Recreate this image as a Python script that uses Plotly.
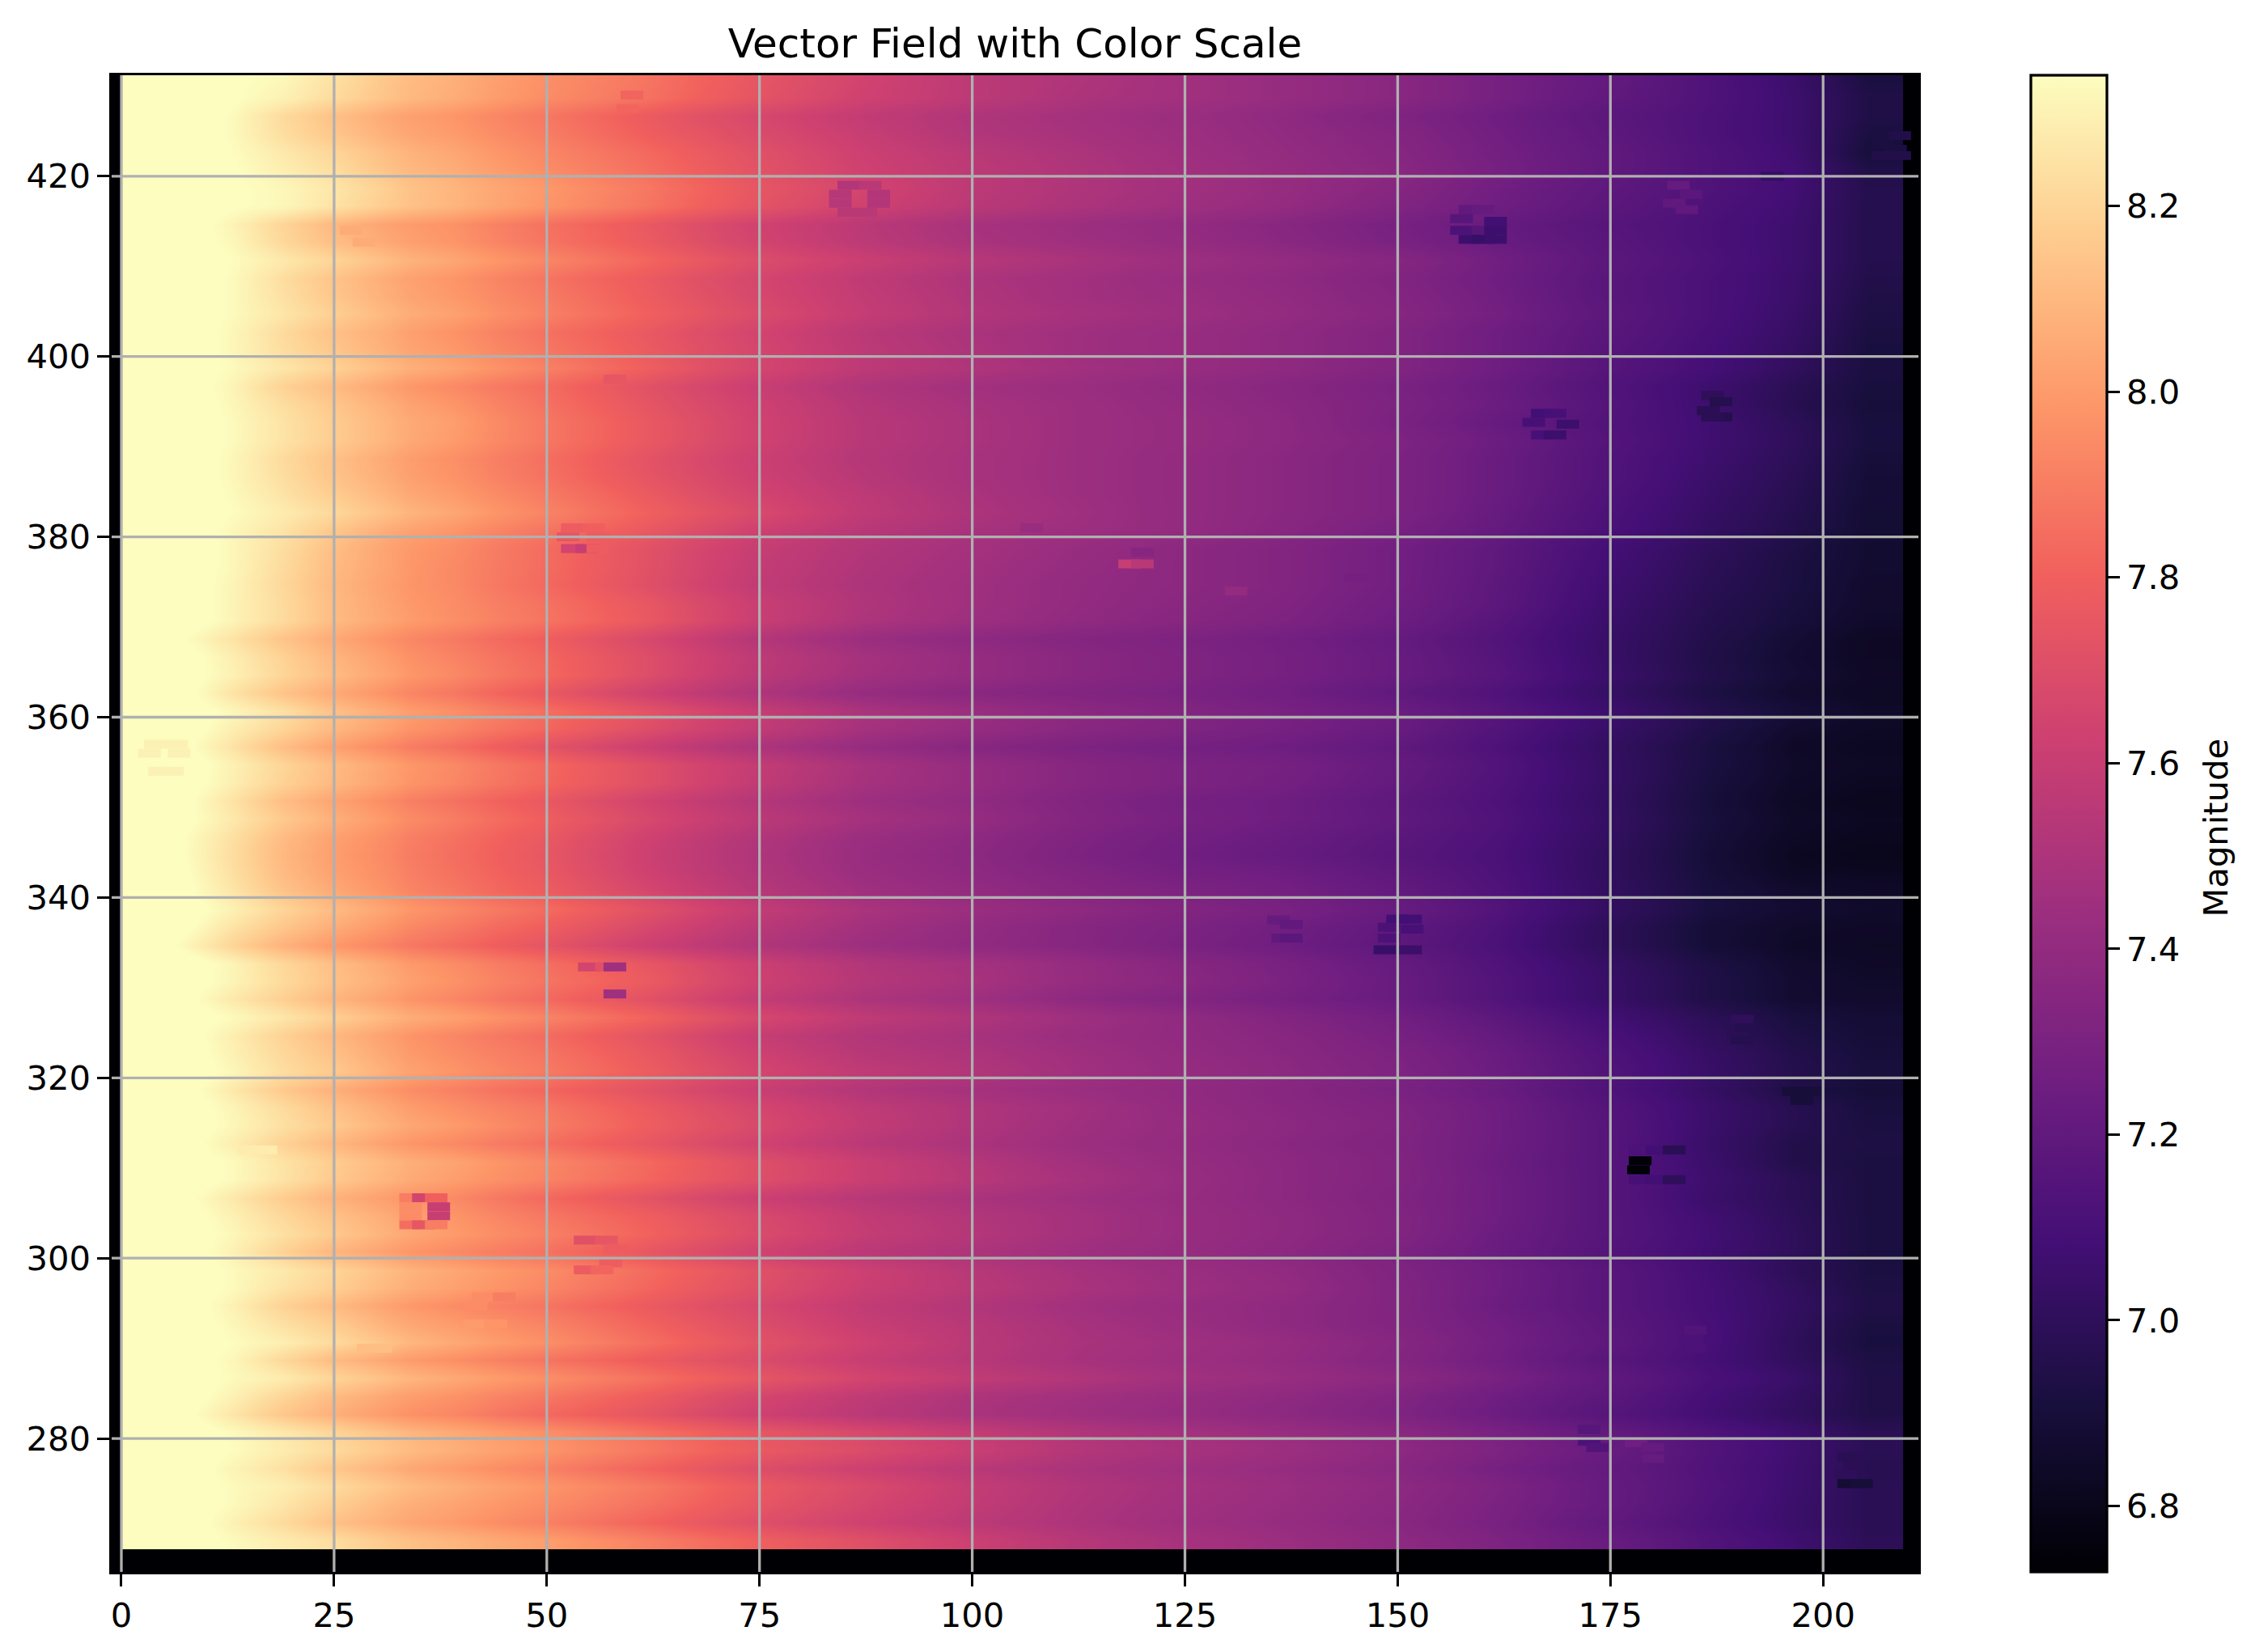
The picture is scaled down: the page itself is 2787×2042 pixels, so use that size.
import plotly.graph_objects as go

# Column edges (x) of the magnitude grid
x_edges = [0.1,4,10,16,22,28,34,44,56,68,81,94,106,118,131,143,156,168,181,192,201,209.4]
# Row edges (y): the visible field runs from 267.7 upward in 2-unit bands
y_edges = [267.7 + 2 * k for k in range(83)]

# Small per-column refinement (x 100) after comparing the first reading with the picture
column_trim = [0,-1,-5,-6,-2,0,1,1,1,0,0,0,0,0,0,0,0,0,1,3,2]

# Magnitude x 100, one row per band, from top (y=430.7) to bottom (y=268.7)
mag_rows_top_down = [
[840,840,840,838,826,815,806,795,786,775,764,756,751,746,741,736,728,721,712,702,690],
[840,840,840,836,824,814,805,794,785,774,763,756,750,746,741,736,728,720,712,703,692],
[840,840,838,828,815,805,797,787,776,767,758,751,747,743,738,732,725,718,711,703,692],
[840,840,838,829,817,807,799,789,778,769,760,752,748,744,739,734,726,719,711,703,690],
[840,840,839,833,822,812,803,792,782,772,762,755,750,745,740,735,727,720,712,704,688],
[840,840,840,835,825,814,805,794,784,773,763,756,751,746,741,736,728,720,712,705,692],
[840,840,840,838,828,818,808,798,787,775,765,756,751,746,741,735,726,719,712,705,694],
[840,840,840,838,827,817,808,797,786,774,763,755,750,745,740,733,725,718,711,704,694],
[840,840,836,826,812,803,796,785,775,764,755,748,744,740,735,729,722,716,710,703,694],
[840,840,837,827,814,805,797,786,776,765,756,749,745,741,736,730,723,717,710,703,694],
[840,840,839,833,822,812,803,792,781,770,761,754,749,744,740,735,726,718,711,703,694],
[840,840,838,829,816,806,797,786,776,766,757,750,746,742,738,733,725,717,710,702,693],
[840,840,838,830,817,807,798,788,777,767,758,751,746,743,739,734,726,717,710,702,692],
[840,840,838,832,820,810,801,790,779,769,759,752,748,744,740,735,727,718,710,701,691],
[840,840,837,828,815,806,796,785,775,765,755,749,745,742,738,733,725,717,709,700,690],
[840,840,837,829,817,807,798,787,776,766,756,750,745,742,738,733,725,716,708,699,689],
[840,840,838,832,821,811,802,790,778,766,756,751,746,742,738,733,725,716,708,698,690],
[840,840,836,825,813,803,793,783,771,761,751,746,743,739,735,730,723,714,705,695,689],
[840,840,837,829,817,807,797,785,773,763,753,748,744,740,736,731,724,715,705,694,688],
[840,840,838,831,819,809,800,787,775,764,754,749,744,741,737,730,722,714,706,696,689],
[840,840,838,831,819,809,799,787,775,764,754,749,744,741,737,732,724,715,706,697,689],
[840,840,837,828,815,805,795,784,772,762,753,748,744,740,736,731,723,714,705,696,688],
[840,840,837,829,816,806,796,785,773,763,754,748,744,740,736,731,723,714,704,695,687],
[840,840,838,831,819,809,799,788,776,765,756,749,744,740,736,731,723,713,703,694,687],
[840,840,839,834,823,813,803,791,779,768,757,750,745,740,736,731,722,712,702,693,686],
[840,840,837,831,817,806,797,786,775,763,754,748,744,740,735,729,721,711,701,692,686],
[840,840,837,829,814,803,794,783,771,760,752,747,742,737,733,727,719,709,699,690,685],
[840,840,837,828,813,803,793,783,771,759,751,746,741,737,733,727,719,708,698,689,685],
[840,840,836,827,812,802,793,782,770,758,750,745,740,737,733,727,718,707,697,689,684],
[840,840,836,828,813,803,794,785,774,761,751,745,740,736,732,726,718,706,696,688,684],
[840,840,836,828,813,804,795,786,775,761,750,744,739,735,731,725,716,705,695,687,683],
[840,836,830,820,807,797,788,778,766,753,743,738,734,731,727,722,714,704,694,685,681],
[840,839,834,825,811,801,791,781,769,757,747,741,736,732,728,723,715,704,693,684,681],
[840,839,835,826,813,803,793,782,769,756,746,741,736,732,728,723,716,705,694,685,682],
[840,839,830,820,807,797,787,775,762,751,741,736,733,730,726,720,713,703,692,683,681],
[840,840,837,830,815,805,795,784,772,760,749,743,737,733,729,724,716,706,695,686,683],
[840,840,834,826,812,802,792,781,769,758,747,741,736,732,728,723,714,704,693,683,681],
[840,838,830,818,804,794,784,772,760,750,741,735,731,728,725,720,712,702,691,681,680],
[840,840,835,826,813,803,793,782,770,759,748,741,735,731,728,722,714,703,691,682,681],
[840,840,834,825,812,802,792,781,770,758,747,741,735,731,727,721,713,703,690,681,680],
[840,838,830,818,805,795,785,775,763,753,744,739,733,728,725,719,712,702,689,680,679],
[840,838,832,822,809,799,789,778,766,756,747,741,734,729,725,720,713,703,690,681,680],
[840,836,829,817,804,795,785,775,762,752,743,738,732,727,723,718,712,702,689,680,679],
[840,836,828,816,803,794,784,774,761,751,742,737,731,726,722,717,711,701,688,679,678],
[840,837,829,817,804,795,785,775,762,752,743,738,733,728,725,719,712,701,689,680,680],
[840,838,831,820,807,797,787,777,765,754,745,740,735,731,727,721,713,702,690,683,682],
[840,840,835,826,813,803,793,783,771,759,749,743,738,733,729,723,714,702,690,684,683],
[840,838,830,821,808,798,788,778,766,755,746,740,735,731,726,720,712,700,688,682,682],
[840,834,825,814,801,792,783,773,761,752,744,739,735,730,725,719,711,700,688,681,681],
[840,840,836,827,814,804,794,784,774,762,752,747,741,735,729,722,713,703,692,683,682],
[840,840,836,828,815,806,796,786,776,763,753,748,741,736,730,723,714,704,693,684,683],
[840,838,832,824,811,802,792,782,771,759,750,745,738,733,728,723,714,704,693,684,684],
[840,840,838,832,820,810,801,791,780,767,757,751,745,739,733,727,718,708,698,688,686],
[840,839,834,825,812,802,792,783,772,760,752,748,743,739,735,729,721,711,700,690,687],
[840,840,835,827,815,804,794,786,775,763,754,750,745,740,736,731,723,713,702,692,688],
[840,840,837,829,818,807,797,788,777,766,757,752,746,741,737,732,724,714,703,693,689],
[840,839,832,822,809,799,790,781,771,761,752,747,743,739,735,730,723,713,702,690,687],
[840,840,836,828,815,805,795,787,776,766,757,751,746,740,736,732,725,715,704,694,689],
[840,840,837,830,818,808,799,789,778,768,758,751,745,741,737,733,725,716,704,694,690],
[840,839,834,825,812,802,793,784,774,764,755,749,744,740,736,732,725,716,703,692,691],
[840,840,838,831,819,810,802,792,782,771,761,753,746,741,737,733,724,716,704,692,690],
[840,840,838,831,818,809,800,791,781,771,761,754,748,742,737,733,725,716,705,695,690],
[840,838,832,823,810,801,793,782,772,762,754,749,745,741,737,732,725,716,704,695,690],
[840,839,835,827,815,806,797,787,778,768,758,752,747,742,738,733,725,716,706,696,690],
[840,840,837,830,818,808,799,790,780,769,759,753,747,742,738,733,724,716,707,697,690],
[840,840,835,825,811,802,793,785,774,764,755,750,745,741,737,731,723,715,706,697,690],
[840,840,838,833,822,812,803,794,783,772,762,754,748,743,739,732,725,717,707,696,690],
[840,840,838,831,820,810,801,792,781,771,761,755,749,744,740,733,725,717,708,698,691],
[840,840,835,825,813,803,794,786,776,767,758,752,746,742,738,733,724,717,708,699,692],
[840,840,837,830,819,808,799,791,780,770,760,754,748,743,738,733,726,718,709,698,690],
[840,840,839,835,824,814,804,795,784,773,763,755,749,745,741,735,727,719,709,697,689],
[840,840,837,827,813,804,795,786,777,769,760,754,748,744,740,734,726,717,708,698,691],
[840,840,838,834,822,813,804,795,785,775,765,758,752,746,742,737,729,720,710,701,692],
[840,840,835,826,813,804,796,787,777,766,757,750,746,742,738,733,725,718,708,699,692],
[840,838,831,821,809,800,792,782,773,763,755,749,745,741,737,732,724,716,707,698,692],
[840,840,838,833,822,813,804,795,785,775,767,759,752,747,742,737,729,721,712,703,696],
[840,840,839,834,824,815,806,797,787,777,769,761,753,748,744,738,731,723,713,704,696],
[840,840,836,830,817,808,799,790,780,770,762,755,749,745,741,736,728,721,712,703,695],
[840,840,838,835,824,815,806,797,788,777,768,759,752,747,743,738,731,722,713,703,696],
[840,840,838,832,820,810,802,794,785,775,766,758,751,746,742,737,730,722,712,702,696],
[840,840,835,828,815,807,799,790,780,771,763,756,750,745,741,736,729,720,711,702,696],
[840,840,838,834,825,816,808,800,790,780,771,762,754,748,743,738,731,723,713,704,697],
]

# Small local patches that differ from their surroundings
spot_x = [34,35.5,37,34,37.3,34,37.3,34,35.5,37,
          54.5,57,58,57.5,54.5,56.5,
          42.5,45,41.7,41.5,44, 29,30.5, 15,17,
          4,6.5,3.3,6.8,4.5,6,
          55,57,58,58,
          85.5,88,84.5,89,84.5,89,85.5,87.5,
          53,55.5,52.5,56,53,54.7,56,
          60,59.5, 27,28.5, 58,
          119,120,118.5,120,
          158.5,160,157.5,161.5,157.5,160,161.5,158.5,160,161.5,
          183,184.5,182.5,184,
          207,209,207,208.5,207,209, 194,
          167,168.5,166,170,167,168.5,
          187,188,186.5,188,187, 107,
          136,137.5,136.5,137.5,
          150,151.5,149,151.7,149,148.5,151.5,
          190.5,191,190,190.5, 145,131,
          197.5,199,196.5,198.5,197.5,
          178.5,180.5,182.5,178.5,178.3,178.5,180.5,182.5,
          185,184.5,185, 172.5,172.5,173.5, 178,180,180,
          203,203.7,202.7,203,204.5]
spot_y = [306.7,306.7,306.7,305.7,305.7,304.7,304.7,303.7,303.7,303.7,
          302,302,301,299.5,298.7,298.7,
          295.7,295.7,294.7,292.7,292.7, 290,290, 312,312,
          357,357,356,356,354,354,
          332.3,332.3,332.3,329.3,
          419,419,418,418,417,417,416,416,
          381,381,380,380,378.7,378.7,378.7,
          429,427.5, 414,412.7, 397.5,
          379.3,378.3,377,377,
          416.3,416.3,415.3,415,414,414,414,413,413,413,
          419,418,417,416.3,
          425,424.5,423.5,423,422.3,422.3, 420,
          393.7,393.7,392.7,392.5,391.3,391.3,
          395.7,395,394,393.3,393.3, 381,
          337.5,337,335.5,335.5,
          337.6,337.6,336.7,336.5,335.5,334.2,334.2,
          326.5,325.5,324.7,324.2, 375.5,374,
          319.5,319.5,318.5,318.5,317.5,
          312,312,312,310.8,309.8,308.7,308.7,308.7,
          292,291,290, 281,279.7,279, 279.5,279,277.8,
          278,277,276,275,275]
spot_mag = [790,765,780,795,760,795,760,785,775,790,
            772,775,778,778,778,782,
            795,790,795,800,798, 812,812, 828,828,
            830,830,830,830,830,830,
            765,772,745,745,
            752,755,754,752,754,752,755,755,
            778,780,775,778,765,760,778,
            782,782, 806,806, 775,
            740,735,760,755,
            720,722,716,708,712,716,706,706,704,706,
            722,718,720,720,
            692,695,692,692,695,695, 702,
            708,710,710,706,710,706,
            700,696,698,696,698, 742,
            722,720,720,718,
            708,708,712,710,712,704,705,
            700,696,698,696, 728,740,
            694,694,690,690,690,
            712,708,698,674,674,710,708,700,
            714,712,712, 716,712,714, 726,722,722,
            698,698,700,688,690]

x_ticks = [0,25,50,75,100,125,150,175,200]
y_ticks = [280,300,320,340,360,380,400,420]
cbar_ticks = [6.8,7.0,7.2,7.4,7.6,7.8,8.0,8.2]
TITLE = "Vector Field with Color Scale"
CBAR_TITLE = "Magnitude"

z = [[(v + t) / 100 for v, t in zip(row, column_trim)] for row in reversed(mag_rows_top_down)]
FONT = "DejaVu Sans"
GRID = dict(color="#b0b0b0", width=3.3)

fig = go.Figure()
fig.add_trace(go.Heatmap(x=x_edges, y=y_edges, z=z, coloraxis="coloraxis",
                         zsmooth="best", hoverinfo="skip"))
fig.add_trace(go.Scatter(x=spot_x, y=spot_y, mode="markers", hoverinfo="skip", showlegend=False,
                         marker=dict(symbol="line-ew", size=20, color="rgba(0,0,0,0)",
                                     line=dict(width=11, color=[m / 100 for m in spot_mag],
                                               coloraxis="coloraxis"))))

shapes = [dict(type="line", xref="x", yref="paper", x0=t, x1=t, y0=0, y1=1, layer="above", line=GRID)
          for t in x_ticks]
shapes += [dict(type="line", xref="paper", yref="y", x0=0, x1=1, y0=t, y1=t, layer="above", line=GRID)
           for t in y_ticks]

AX = dict(showgrid=False, zeroline=False, ticks="outside", ticklen=14.6, tickwidth=3.3, tickcolor="black",
          showline=True, mirror=True, linecolor="black", linewidth=3.3, layer="above traces",
          tickfont=dict(family=FONT, size=41.67, color="black"))

fig.update_layout(
    width=2787, height=2042,
    margin=dict(l=138, r=416, t=93, b=99, autoexpand=False),
    paper_bgcolor="white", plot_bgcolor="#000004",
    showlegend=False,
    title=dict(text=TITLE, x=(138 + 2371) / 2 / 2787, xanchor="center", y=1 - 53 / 2042, yanchor="middle",
               font=dict(family=FONT, size=50, color="black")),
    xaxis=dict(range=[-1.14, 211.2], tickmode="array", tickvals=x_ticks, **AX),
    yaxis=dict(range=[265.2, 431.2], tickmode="array", tickvals=y_ticks, **AX),
    coloraxis=dict(
        colorscale="Magma", cmin=6.729, cmax=8.341,
        colorbar=dict(
            x=(2510 - 138) / (2371 - 138), xanchor="left", xref="paper",
            y=0.5, yanchor="middle", len=1, lenmode="fraction",
            thickness=94, thicknessmode="pixels",
            outlinecolor="black", outlinewidth=3.3, xpad=0, ypad=0,
            tickmode="array", tickvals=cbar_ticks, ticktext=[f"{t:.1f}" for t in cbar_ticks],
            ticks="outside", ticklen=14.6, tickwidth=3.3, tickcolor="black",
            tickfont=dict(family=FONT, size=41.67, color="black"),
        ),
    ),
    annotations=[dict(text=CBAR_TITLE, xref="paper", yref="paper", x=(2739 - 138) / (2371 - 138), y=0.497,
                      xanchor="center", yanchor="middle", textangle=-90, showarrow=False,
                      font=dict(family=FONT, size=41.67, color="black"))],
    shapes=shapes,
)
fig.write_html("out.html", config={"displayModeBar": False}, post_script="document.body.style.margin='0';")
